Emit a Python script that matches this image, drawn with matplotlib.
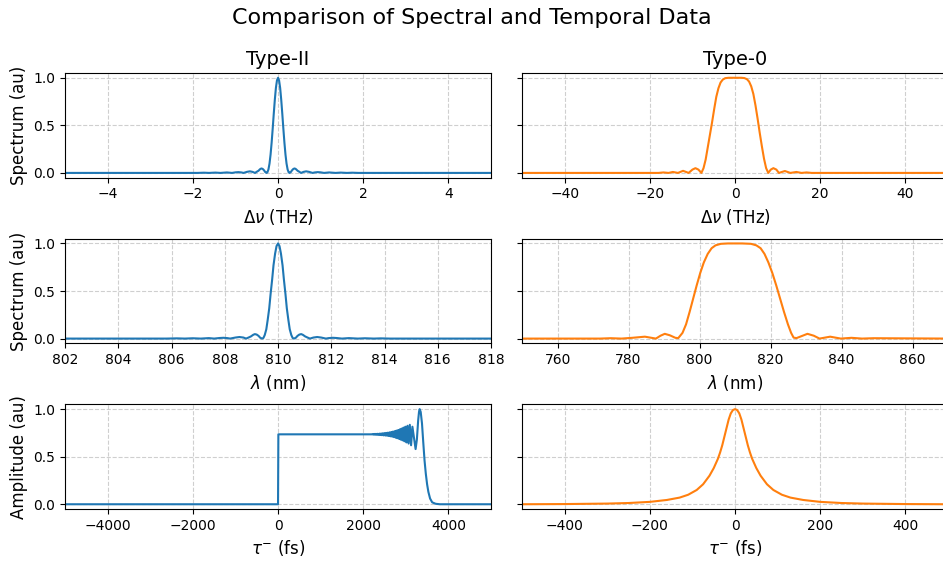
import matplotlib
matplotlib.use('Agg')
import matplotlib.pyplot as plt

# ---- values ----
# Type-II spectrum vs frequency offset (THz)
nu2_x = [-5.0, -1.89, -1.74, -1.62, -1.47, -1.35, -1.2, -1.08, -1.0, -0.93, -0.86, -0.81,
         -0.73, -0.66, -0.6, -0.54, -0.5, -0.46, -0.42, -0.39, -0.36, -0.33, -0.3, -0.27,
         -0.25, -0.225, -0.2, -0.175, -0.15, -0.125, -0.1, -0.075, -0.05, -0.025, 0.0,
         0.025, 0.05, 0.075, 0.1, 0.125, 0.15, 0.175, 0.2, 0.225, 0.25, 0.27, 0.3, 0.33,
         0.36, 0.39, 0.42, 0.46, 0.5, 0.54, 0.6, 0.66, 0.73, 0.81, 0.86, 0.93, 1.0, 1.08,
         1.2, 1.35, 1.47, 1.62, 1.74, 1.89, 5.0]
nu2_y = [0.0, 0.0, 0.0023, 0.0, 0.0033, 0.0, 0.005, 0.0, 0.006, 0.0083, 0.005, 0.0,
         0.011, 0.0165, 0.011, 0.0, 0.012, 0.0225, 0.04, 0.047, 0.042, 0.028, 0.009, 0.0,
         0.0062, 0.0365, 0.098, 0.193, 0.319, 0.466, 0.623, 0.77, 0.893, 0.972, 1.0,
         0.972, 0.893, 0.77, 0.623, 0.466, 0.319, 0.193, 0.098, 0.0365, 0.0062, 0.0, 0.009, 0.028,
         0.042, 0.047, 0.04, 0.0225, 0.012, 0.0, 0.011, 0.0165, 0.011, 0.0, 0.005, 0.0083, 0.006, 0.0,
         0.005, 0.0, 0.0033, 0.0, 0.0023, 0.0, 0.0]

# Type-II spectrum vs wavelength (nm)
lam2_x = [802.0, 805.8, 806.2, 806.5, 806.8, 807.1, 807.4, 807.6, 807.8, 807.95, 808.1, 808.2,
          808.4, 808.55, 808.7, 808.8, 808.9, 808.98, 809.07, 809.13, 809.2, 809.27, 809.33, 809.4,
          809.45, 809.5, 809.56, 809.61, 809.67, 809.72, 809.78, 809.83, 809.89, 809.944, 810.0,
          810.056, 810.11, 810.17, 810.22, 810.28, 810.33, 810.39, 810.44, 810.5, 810.55, 810.6,
          810.67, 810.73, 810.8, 810.87, 810.93, 811.02, 811.1, 811.2, 811.33, 811.47, 811.62, 811.8,
          811.9, 812.06, 812.2, 812.4, 812.66, 813.0, 813.26, 813.6, 813.86, 814.2, 818.0]
lam2_y = nu2_y[:]

# Type-0 spectrum vs frequency offset (THz)
nu0_x = [-50.0, -18.0, -16.8, -15.6, -14.6, -13.4, -12.2, -10.9, -10.0, -9.3, -8.6, -7.9,
         -7.4, -6.9, -6.4, -5.9, -5.4, -4.9, -4.4, -3.9, -3.4, -2.9, -2.3, -1.5, 0.0,
         1.5, 2.2, 2.8, 3.3, 3.8, 4.3, 4.8, 5.3, 5.8, 6.3, 6.8, 7.3, 7.8,
         8.4, 9.0, 9.7, 10.3, 11.7, 13.0, 14.4, 15.6, 16.8, 18.0, 50.0]
nu0_y = [0.0, 0.0, 0.005, 0.0, 0.01, 0.0, 0.022, 0.0, 0.035, 0.05, 0.035, 0.0,
         0.05, 0.14, 0.27, 0.4, 0.53, 0.67, 0.8, 0.89, 0.95, 0.98, 0.996, 1.0, 1.0,
         1.0, 0.997, 0.985, 0.96, 0.91, 0.83, 0.71, 0.57, 0.42, 0.28, 0.15, 0.05, 0.0,
         0.035, 0.05, 0.035, 0.0, 0.02, 0.0, 0.01, 0.0, 0.005, 0.0, 0.0]

# Type-0 spectrum vs wavelength (nm)
lam0_x = [750.0, 772.0, 775.0, 778.0, 781.0, 784.6, 787.7, 789.0, 790.2, 791.6, 793.2, 794.0,
          795.2, 796.2, 797.2, 798.2, 799.2, 800.2, 801.2, 802.3, 803.4, 804.5, 806.0, 808.0, 810.0,
          812.0, 814.5, 816.0, 817.2, 818.3, 819.4, 820.5, 821.6, 822.7, 823.8, 824.9, 825.8, 826.5,
          827.3, 828.0, 830.4, 832.2, 833.8, 836.8, 839.8, 842.8, 845.8, 849.0, 870.0]
lam0_y = [0.0, 0.0, 0.004, 0.0, 0.008, 0.02, 0.0, 0.03, 0.05, 0.035, 0.008, 0.005,
          0.06, 0.15, 0.28, 0.42, 0.56, 0.69, 0.8, 0.89, 0.95, 0.98, 0.996, 1.0, 1.0,
          1.0, 0.996, 0.98, 0.95, 0.89, 0.8, 0.69, 0.56, 0.42, 0.28, 0.15, 0.06, 0.01,
          0.005, 0.015, 0.05, 0.03, 0.0, 0.02, 0.0, 0.008, 0.0, 0.004, 0.0]

# Type-II temporal amplitude (fs)
tau2_x = [-5000, 0, 8, 2200,
          2220, 2240, 2260, 2280, 2300, 2320, 2340, 2360, 2380, 2400,
          2420, 2440, 2460, 2480, 2500, 2520, 2540, 2560, 2580, 2600,
          2620, 2640, 2660, 2680, 2700, 2720, 2740, 2760, 2780, 2800,
          2820, 2840, 2860, 2880, 2900, 2922, 2944, 2966, 2990, 3014,
          3040, 3066, 3094, 3124, 3155, 3230, 3260, 3290, 3310, 3325,
          3350, 3380, 3410, 3440, 3470, 3500, 3530, 3570, 3620, 3700, 3800, 5000]
tau2_y = [0.0, 0.0, 0.735, 0.735,
          0.738, 0.732, 0.739, 0.731, 0.740, 0.730, 0.741, 0.729, 0.742, 0.728,
          0.744, 0.726, 0.746, 0.724, 0.748, 0.722, 0.750, 0.720, 0.753, 0.717,
          0.756, 0.714, 0.760, 0.710, 0.764, 0.706, 0.768, 0.700, 0.774, 0.694,
          0.780, 0.688, 0.787, 0.680, 0.795, 0.672, 0.805, 0.662, 0.815, 0.650,
          0.825, 0.638, 0.835, 0.620, 0.815, 0.580, 0.680, 0.880, 0.970, 1.0,
          0.970, 0.850, 0.650, 0.460, 0.320, 0.210, 0.130, 0.060, 0.020, 0.005, 0.0, 0.0]

# Type-0 temporal amplitude (fs)
tau0_x = [-500, -400, -300, -250, -200, -160, -130, -110, -90, -75, -60, -50, -40, -35, -30, -25,
          -20, -15, -10, -5, 0, 5, 10, 15, 20, 25, 30, 35, 40, 50, 60, 75, 90, 110, 130, 160, 200,
          250, 300, 400, 500]
tau0_y = [0.0, 0.002, 0.007, 0.013, 0.025, 0.045, 0.07, 0.10, 0.15, 0.21, 0.30, 0.38, 0.48, 0.545, 0.62, 0.71,
          0.80, 0.89, 0.955, 0.99, 1.0, 0.99, 0.955, 0.89, 0.80, 0.71, 0.62, 0.545, 0.48, 0.38, 0.30,
          0.21, 0.15, 0.10, 0.07, 0.045, 0.025, 0.013, 0.007, 0.002, 0.0]

fig, axs = plt.subplots(3, 2, figsize=(9.43, 5.63), dpi=100, sharey='row')
fig.subplots_adjust(left=0.069, right=1.0053, top=0.8703, bottom=0.0959, wspace=0.073, hspace=0.583)

# column 0 : Type-II, column 1 : Type-0
axs[0, 0].plot(nu2_x, nu2_y, color='C0', lw=1.5)
axs[0, 1].plot(nu0_x, nu0_y, color='C1', lw=1.5)
axs[1, 0].plot(lam2_x, lam2_y, color='C0', lw=1.5)
axs[1, 1].plot(lam0_x, lam0_y, color='C1', lw=1.5)
axs[2, 0].plot(tau2_x, tau2_y, color='C0', lw=1.5)
axs[2, 1].plot(tau0_x, tau0_y, color='C1', lw=1.5)

axs[0, 0].set_xlim(-5, 5)
axs[0, 1].set_xlim(-50, 50)
axs[1, 0].set_xlim(802, 818)
axs[1, 1].set_xlim(750, 870)
axs[2, 0].set_xlim(-5000, 5000)
axs[2, 1].set_xlim(-500, 500)

axs[0, 0].set_title('Type-II', fontsize=14)
axs[0, 1].set_title('Type-0', fontsize=14)

xlabels = [r'$\Delta\nu$ (THz)', r'$\lambda$ (nm)', r'$\tau^{-}$ (fs)']
ylabels = ['Spectrum (au)', 'Spectrum (au)', 'Amplitude (au)']
for i in range(3):
  axs[i, 0].set_ylabel(ylabels[i], fontsize=12)
  for j in range(2):
    axs[i, j].set_xlabel(xlabels[i], fontsize=12)
    axs[i, j].grid(True, linestyle='--', alpha=0.6)
    axs[i, j].set_yticks([0.0, 0.5, 1.0])

fig.suptitle('Comparison of Spectral and Temporal Data', fontsize=16, y=0.985)
fig.savefig('out.png', dpi=100)
